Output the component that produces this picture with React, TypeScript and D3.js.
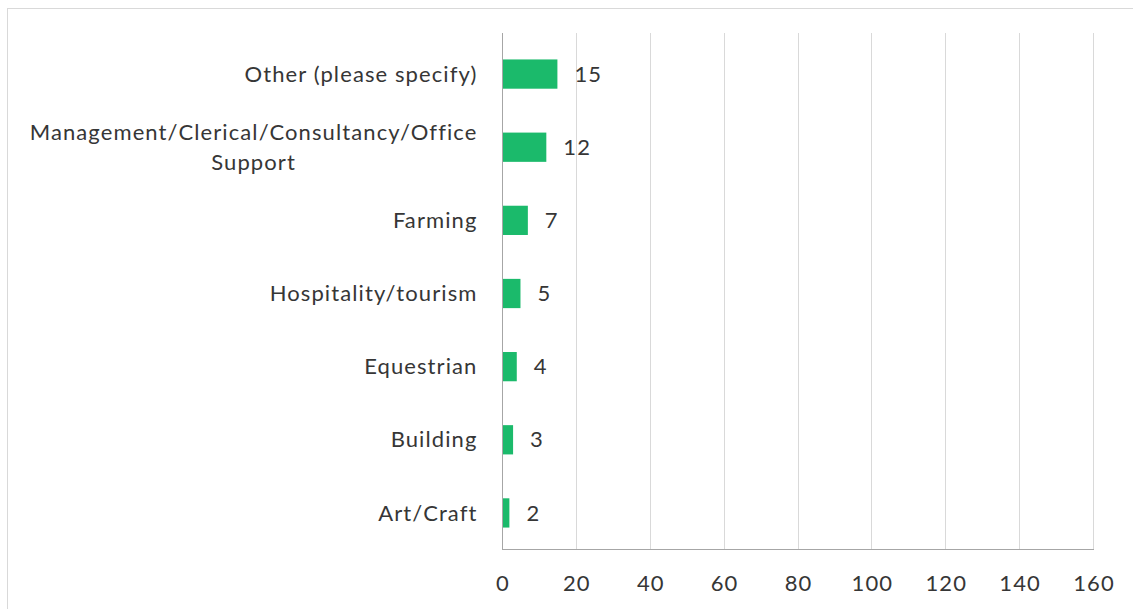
import React, { useEffect, useRef } from "react";
import * as d3 from "d3";

const categories: string[][] = [
  ["Other (please specify)"],
  ["Management/Clerical/Consultancy/Office", "Support"],
  ["Farming"],
  ["Hospitality/tourism"],
  ["Equestrian"],
  ["Building"],
  ["Art/Craft"],
];
const values: number[] = [15, 12, 7, 5, 4, 3, 2];
const xTicks: number[] = [0, 20, 40, 60, 80, 100, 120, 140, 160];

const W = 1133;
const H = 609;
const FONT = "Lato, 'Open Sans', sans-serif";
const FS = 22;
const LS = "1.1px";
const TEXT = "#363636";
const BAR = "#1bba6b";

export default function App() {
  const ref = useRef<SVGSVGElement>(null);
  useEffect(() => {
    const svg = d3.select(ref.current!);
    svg.selectAll("*").remove();

    const left = 502, right = 1093, gridTop = 33, bottom = 549;
    const x = d3.scaleLinear().domain([0, 160]).range([left, right]);
    const y = d3
      .scaleBand<number>()
      .domain(d3.range(categories.length))
      .range([37.5, 549.5])
      .paddingInner(0.6)
      .paddingOuter(0.3);

    svg.append("rect").attr("x", 7.5).attr("y", 8.5).attr("width", W + 20).attr("height", H + 20)
      .attr("fill", "#fff").attr("stroke", "#d9d9d9");

    // gridlines
    svg.append("g").selectAll("line").data(xTicks.filter((t) => t !== 0)).join("line")
      .attr("x1", (d) => Math.round(x(d)) + 0.5).attr("x2", (d) => Math.round(x(d)) + 0.5)
      .attr("y1", gridTop).attr("y2", bottom)
      .attr("stroke", "#d9d9d9").attr("stroke-width", 1);

    // bars
    svg.append("g").selectAll("rect").data(values).join("rect")
      .attr("x", x(0)).attr("y", (_, i) => y(i)!)
      .attr("width", (d) => x(d) - x(0)).attr("height", y.bandwidth())
      .attr("fill", BAR);

    // value labels
    svg.append("g").selectAll("text").data(values).join("text")
      .attr("x", (d) => x(d) + 17).attr("y", (_, i) => y(i)! + y.bandwidth() / 2)
      .attr("dy", "0.35em").attr("font-family", FONT).attr("font-size", FS)
      .attr("letter-spacing", LS)
      .attr("fill", TEXT).text((d) => String(d));

    // axes lines
    svg.append("line").attr("x1", Math.round(x(0)) + 0.5).attr("x2", Math.round(x(0)) + 0.5)
      .attr("y1", gridTop).attr("y2", bottom + 0.5).attr("stroke", "#a6a6a6");
    svg.append("line").attr("x1", x(0)).attr("x2", right + 1)
      .attr("y1", bottom + 0.5).attr("y2", bottom + 0.5).attr("stroke", "#a6a6a6");

    // x tick labels
    svg.append("g").selectAll("text").data(xTicks).join("text")
      .attr("x", (d) => x(d) + 1).attr("y", 583).attr("dy", "0.35em")
      .attr("text-anchor", "middle").attr("font-family", FONT).attr("font-size", FS)
      .attr("letter-spacing", LS)
      .attr("fill", TEXT).text((d) => String(d));

    // category labels
    const lineH = 30;
    categories.forEach((lines, i) => {
      const cy = y(i)! + y.bandwidth() / 2;
      const g = svg.append("g");
      const t = g.append("text").attr("font-family", FONT).attr("font-size", FS)
        .attr("letter-spacing", LS).attr("fill", TEXT);
      const n = lines.length;
      lines.forEach((ln, j) => {
        t.append("tspan").attr("y", cy + (j - (n - 1) / 2) * lineH).attr("dy", "0.35em").text(ln);
      });
      const anchorX = 477.5;
      if (n === 1) {
        t.attr("text-anchor", "end").selectAll("tspan").attr("x", anchorX);
      } else {
        const widths = (t.selectAll("tspan").nodes() as SVGTSpanElement[]).map((nd) => nd.getComputedTextLength());
        const maxW = Math.max(...widths);
        const cx = anchorX - maxW / 2;
        t.attr("text-anchor", "middle").selectAll("tspan").attr("x", cx);
      }
    });
  }, []);

  return (
    <svg ref={ref} width={W} height={H}
      style={{ position: "absolute", left: 0, top: 0, display: "block", background: "#fff" }} />
  );
}
